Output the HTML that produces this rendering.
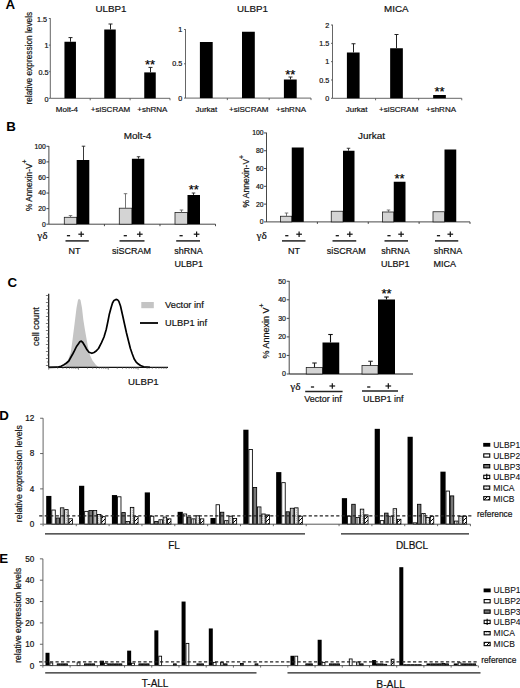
<!DOCTYPE html>
<html><head><meta charset="utf-8"><style>
html,body{margin:0;padding:0;background:#fff;width:520px;height:688px;overflow:hidden;}
svg{display:block;}

</style></head><body>
<svg width="520" height="688" viewBox="0 0 520 688">
<rect width="520" height="688" fill="#fff"/>
<text transform="translate(5.60 9.00)" font-size="13.3" text-anchor="start" font-weight="bold" font-family="Liberation Sans" fill="#000">A</text>
<line x1="50.30" y1="18.20" x2="50.30" y2="98.30" stroke="#555" stroke-width="0.9"/>
<line x1="48.80" y1="98.30" x2="50.30" y2="98.30" stroke="#555" stroke-width="0.9"/>
<text transform="translate(48.40 101.50)" font-size="7.2" text-anchor="end" font-weight="normal" font-family="Liberation Sans" fill="#111" stroke="#111" stroke-width="0.2">0</text>
<line x1="48.80" y1="71.70" x2="50.30" y2="71.70" stroke="#555" stroke-width="0.9"/>
<text transform="translate(48.40 74.90)" font-size="7.2" text-anchor="end" font-weight="normal" font-family="Liberation Sans" fill="#111" stroke="#111" stroke-width="0.2">0.5</text>
<line x1="48.80" y1="45.10" x2="50.30" y2="45.10" stroke="#555" stroke-width="0.9"/>
<text transform="translate(48.40 48.30)" font-size="7.2" text-anchor="end" font-weight="normal" font-family="Liberation Sans" fill="#111" stroke="#111" stroke-width="0.2">1</text>
<line x1="48.80" y1="18.50" x2="50.30" y2="18.50" stroke="#555" stroke-width="0.9"/>
<text transform="translate(47.10 21.70)" font-size="7.2" text-anchor="end" font-weight="normal" font-family="Liberation Sans" fill="#111" stroke="#111" stroke-width="0.2">1.5</text>
<line x1="50.30" y1="98.30" x2="170.00" y2="98.30" stroke="#555" stroke-width="0.9"/>
<line x1="90.20" y1="98.30" x2="90.20" y2="100.30" stroke="#555" stroke-width="0.9"/>
<line x1="130.10" y1="98.30" x2="130.10" y2="100.30" stroke="#555" stroke-width="0.9"/>
<line x1="170.00" y1="98.30" x2="170.00" y2="100.30" stroke="#555" stroke-width="0.9"/>
<rect x="64.45" y="41.75" width="11.50" height="56.55" fill="#000" stroke="none" stroke-width="0.8"/>
<line x1="70.50" y1="37.60" x2="70.50" y2="41.75" stroke="#222" stroke-width="1.0"/>
<line x1="68.50" y1="37.60" x2="72.50" y2="37.60" stroke="#222" stroke-width="1.0"/>
<rect x="104.25" y="29.50" width="11.50" height="68.80" fill="#000" stroke="none" stroke-width="0.8"/>
<line x1="110.50" y1="24.00" x2="110.50" y2="29.50" stroke="#222" stroke-width="1.0"/>
<line x1="108.50" y1="24.00" x2="112.50" y2="24.00" stroke="#222" stroke-width="1.0"/>
<rect x="144.25" y="72.40" width="11.50" height="25.90" fill="#000" stroke="none" stroke-width="0.8"/>
<line x1="150.50" y1="67.40" x2="150.50" y2="72.40" stroke="#222" stroke-width="1.0"/>
<line x1="148.50" y1="67.40" x2="152.50" y2="67.40" stroke="#222" stroke-width="1.0"/>
<text transform="translate(150.00 69.40)" font-size="13" text-anchor="middle" font-weight="normal" font-family="Liberation Sans" fill="#000" stroke="#000" stroke-width="0.2">**</text>
<text transform="translate(66.90 112.20)" font-size="8" text-anchor="middle" font-weight="normal" font-family="Liberation Sans" fill="#111" stroke="#111" stroke-width="0.2">Molt-4</text>
<text transform="translate(110.50 112.20)" font-size="8" text-anchor="middle" font-weight="normal" font-family="Liberation Sans" fill="#111" stroke="#111" stroke-width="0.2">+siSCRAM</text>
<text transform="translate(152.30 112.20)" font-size="8" text-anchor="middle" font-weight="normal" font-family="Liberation Sans" fill="#111" stroke="#111" stroke-width="0.2">+shRNA</text>
<text transform="translate(111.00 12.00)" font-size="9.8" text-anchor="middle" font-weight="normal" font-family="Liberation Sans" fill="#111" stroke="#111" stroke-width="0.2">ULBP1</text>
<line x1="185.50" y1="29.20" x2="185.50" y2="98.10" stroke="#555" stroke-width="0.9"/>
<line x1="184.00" y1="98.10" x2="185.50" y2="98.10" stroke="#555" stroke-width="0.9"/>
<text transform="translate(182.30 100.70)" font-size="7.2" text-anchor="end" font-weight="normal" font-family="Liberation Sans" fill="#111" stroke="#111" stroke-width="0.2">0</text>
<line x1="184.00" y1="63.80" x2="185.50" y2="63.80" stroke="#555" stroke-width="0.9"/>
<text transform="translate(182.30 66.40)" font-size="7.2" text-anchor="end" font-weight="normal" font-family="Liberation Sans" fill="#111" stroke="#111" stroke-width="0.2">0.5</text>
<line x1="184.00" y1="29.50" x2="185.50" y2="29.50" stroke="#555" stroke-width="0.9"/>
<text transform="translate(182.30 32.10)" font-size="7.2" text-anchor="end" font-weight="normal" font-family="Liberation Sans" fill="#111" stroke="#111" stroke-width="0.2">1</text>
<line x1="185.50" y1="98.10" x2="311.00" y2="98.10" stroke="#555" stroke-width="0.9"/>
<line x1="227.33" y1="98.10" x2="227.33" y2="100.10" stroke="#555" stroke-width="0.9"/>
<line x1="269.17" y1="98.10" x2="269.17" y2="100.10" stroke="#555" stroke-width="0.9"/>
<line x1="311.00" y1="98.10" x2="311.00" y2="100.10" stroke="#555" stroke-width="0.9"/>
<rect x="199.90" y="42.00" width="12.80" height="56.10" fill="#000" stroke="none" stroke-width="0.8"/>
<rect x="242.00" y="31.75" width="12.80" height="66.35" fill="#000" stroke="none" stroke-width="0.8"/>
<rect x="283.90" y="79.50" width="12.80" height="18.60" fill="#000" stroke="none" stroke-width="0.8"/>
<line x1="290.50" y1="77.00" x2="290.50" y2="79.50" stroke="#222" stroke-width="1.0"/>
<line x1="288.50" y1="77.00" x2="292.50" y2="77.00" stroke="#222" stroke-width="1.0"/>
<text transform="translate(290.30 78.80)" font-size="13" text-anchor="middle" font-weight="normal" font-family="Liberation Sans" fill="#000" stroke="#000" stroke-width="0.2">**</text>
<text transform="translate(206.40 112.20)" font-size="8" text-anchor="middle" font-weight="normal" font-family="Liberation Sans" fill="#111" stroke="#111" stroke-width="0.2">Jurkat</text>
<text transform="translate(248.75 112.20)" font-size="8" text-anchor="middle" font-weight="normal" font-family="Liberation Sans" fill="#111" stroke="#111" stroke-width="0.2">+siSCRAM</text>
<text transform="translate(291.00 112.20)" font-size="8" text-anchor="middle" font-weight="normal" font-family="Liberation Sans" fill="#111" stroke="#111" stroke-width="0.2">+shRNA</text>
<text transform="translate(252.50 12.00)" font-size="9.8" text-anchor="middle" font-weight="normal" font-family="Liberation Sans" fill="#111" stroke="#111" stroke-width="0.2">ULBP1</text>
<line x1="332.50" y1="24.70" x2="332.50" y2="98.30" stroke="#555" stroke-width="0.9"/>
<line x1="331.00" y1="98.30" x2="332.50" y2="98.30" stroke="#555" stroke-width="0.9"/>
<text transform="translate(329.30 100.90)" font-size="7.2" text-anchor="end" font-weight="normal" font-family="Liberation Sans" fill="#111" stroke="#111" stroke-width="0.2">0</text>
<line x1="331.00" y1="79.97" x2="332.50" y2="79.97" stroke="#555" stroke-width="0.9"/>
<text transform="translate(329.30 82.57)" font-size="7.2" text-anchor="end" font-weight="normal" font-family="Liberation Sans" fill="#111" stroke="#111" stroke-width="0.2">0.5</text>
<line x1="331.00" y1="61.65" x2="332.50" y2="61.65" stroke="#555" stroke-width="0.9"/>
<text transform="translate(329.30 64.25)" font-size="7.2" text-anchor="end" font-weight="normal" font-family="Liberation Sans" fill="#111" stroke="#111" stroke-width="0.2">1</text>
<line x1="331.00" y1="43.33" x2="332.50" y2="43.33" stroke="#555" stroke-width="0.9"/>
<text transform="translate(329.30 45.93)" font-size="7.2" text-anchor="end" font-weight="normal" font-family="Liberation Sans" fill="#111" stroke="#111" stroke-width="0.2">1.5</text>
<line x1="331.00" y1="25.00" x2="332.50" y2="25.00" stroke="#555" stroke-width="0.9"/>
<text transform="translate(329.30 27.60)" font-size="7.2" text-anchor="end" font-weight="normal" font-family="Liberation Sans" fill="#111" stroke="#111" stroke-width="0.2">2</text>
<line x1="332.50" y1="98.30" x2="461.75" y2="98.30" stroke="#555" stroke-width="0.9"/>
<line x1="375.58" y1="98.30" x2="375.58" y2="100.30" stroke="#555" stroke-width="0.9"/>
<line x1="418.67" y1="98.30" x2="418.67" y2="100.30" stroke="#555" stroke-width="0.9"/>
<line x1="461.75" y1="98.30" x2="461.75" y2="100.30" stroke="#555" stroke-width="0.9"/>
<rect x="346.90" y="52.50" width="12.70" height="45.80" fill="#000" stroke="none" stroke-width="0.8"/>
<line x1="353.50" y1="43.75" x2="353.50" y2="52.50" stroke="#222" stroke-width="1.0"/>
<line x1="351.50" y1="43.75" x2="355.50" y2="43.75" stroke="#222" stroke-width="1.0"/>
<rect x="390.15" y="48.25" width="12.70" height="50.05" fill="#000" stroke="none" stroke-width="0.8"/>
<line x1="396.50" y1="34.50" x2="396.50" y2="48.25" stroke="#222" stroke-width="1.0"/>
<line x1="394.50" y1="34.50" x2="398.50" y2="34.50" stroke="#222" stroke-width="1.0"/>
<rect x="433.15" y="95.00" width="12.70" height="3.30" fill="#000" stroke="none" stroke-width="0.8"/>
<text transform="translate(439.50 95.55)" font-size="13" text-anchor="middle" font-weight="normal" font-family="Liberation Sans" fill="#000" stroke="#000" stroke-width="0.2">**</text>
<text transform="translate(356.60 112.20)" font-size="8" text-anchor="middle" font-weight="normal" font-family="Liberation Sans" fill="#111" stroke="#111" stroke-width="0.2">Jurkat</text>
<text transform="translate(398.70 112.20)" font-size="8" text-anchor="middle" font-weight="normal" font-family="Liberation Sans" fill="#111" stroke="#111" stroke-width="0.2">+siSCRAM</text>
<text transform="translate(441.00 112.20)" font-size="8" text-anchor="middle" font-weight="normal" font-family="Liberation Sans" fill="#111" stroke="#111" stroke-width="0.2">+shRNA</text>
<text transform="translate(396.25 12.00)" font-size="9.8" text-anchor="middle" font-weight="normal" font-family="Liberation Sans" fill="#111" stroke="#111" stroke-width="0.2">MICA</text>
<text transform="translate(32.40 58.20) rotate(-90)" font-size="8.3" text-anchor="middle" font-weight="normal" font-family="Liberation Sans" fill="#111" stroke="#111" stroke-width="0.2">relative expression levels</text>
<text transform="translate(6.20 131.15)" font-size="13.3" text-anchor="start" font-weight="bold" font-family="Liberation Sans" fill="#000">B</text>
<line x1="48.90" y1="146.00" x2="48.90" y2="224.20" stroke="#333" stroke-width="0.9"/>
<line x1="46.40" y1="224.20" x2="48.90" y2="224.20" stroke="#333" stroke-width="0.9"/>
<text transform="translate(45.90 226.60)" font-size="6.8" text-anchor="end" font-weight="normal" font-family="Liberation Sans" fill="#111" stroke="#111" stroke-width="0.2">0</text>
<line x1="46.40" y1="208.62" x2="48.90" y2="208.62" stroke="#333" stroke-width="0.9"/>
<text transform="translate(45.90 211.02)" font-size="6.8" text-anchor="end" font-weight="normal" font-family="Liberation Sans" fill="#111" stroke="#111" stroke-width="0.2">20</text>
<line x1="46.40" y1="193.04" x2="48.90" y2="193.04" stroke="#333" stroke-width="0.9"/>
<text transform="translate(45.90 195.44)" font-size="6.8" text-anchor="end" font-weight="normal" font-family="Liberation Sans" fill="#111" stroke="#111" stroke-width="0.2">40</text>
<line x1="46.40" y1="177.46" x2="48.90" y2="177.46" stroke="#333" stroke-width="0.9"/>
<text transform="translate(45.90 179.86)" font-size="6.8" text-anchor="end" font-weight="normal" font-family="Liberation Sans" fill="#111" stroke="#111" stroke-width="0.2">60</text>
<line x1="46.40" y1="161.88" x2="48.90" y2="161.88" stroke="#333" stroke-width="0.9"/>
<text transform="translate(45.90 164.28)" font-size="6.8" text-anchor="end" font-weight="normal" font-family="Liberation Sans" fill="#111" stroke="#111" stroke-width="0.2">80</text>
<line x1="46.40" y1="146.30" x2="48.90" y2="146.30" stroke="#333" stroke-width="0.9"/>
<text transform="translate(45.90 148.70)" font-size="6.8" text-anchor="end" font-weight="normal" font-family="Liberation Sans" fill="#111" stroke="#111" stroke-width="0.2">100</text>
<line x1="48.90" y1="224.20" x2="215.50" y2="224.20" stroke="#333" stroke-width="0.9"/>
<line x1="104.43" y1="224.20" x2="104.43" y2="226.20" stroke="#333" stroke-width="0.9"/>
<line x1="159.97" y1="224.20" x2="159.97" y2="226.20" stroke="#333" stroke-width="0.9"/>
<line x1="215.50" y1="224.20" x2="215.50" y2="226.20" stroke="#333" stroke-width="0.9"/>
<rect x="64.30" y="217.30" width="12.40" height="6.90" fill="#d4d4d4" stroke="#222" stroke-width="0.8"/>
<rect x="76.70" y="160.00" width="12.60" height="64.20" fill="#000" stroke="none" stroke-width="0.8"/>
<line x1="70.50" y1="215.60" x2="70.50" y2="217.30" stroke="#666" stroke-width="0.9"/>
<line x1="68.75" y1="215.60" x2="72.25" y2="215.60" stroke="#666" stroke-width="0.9"/>
<line x1="83.50" y1="146.20" x2="83.50" y2="160.00" stroke="#222" stroke-width="0.9"/>
<line x1="81.75" y1="146.20" x2="85.25" y2="146.20" stroke="#222" stroke-width="0.9"/>
<rect x="119.30" y="208.20" width="12.60" height="16.00" fill="#d4d4d4" stroke="#222" stroke-width="0.8"/>
<rect x="131.90" y="158.75" width="12.40" height="65.45" fill="#000" stroke="none" stroke-width="0.8"/>
<line x1="125.50" y1="193.70" x2="125.50" y2="208.20" stroke="#666" stroke-width="0.9"/>
<line x1="123.75" y1="193.70" x2="127.25" y2="193.70" stroke="#666" stroke-width="0.9"/>
<line x1="138.50" y1="156.75" x2="138.50" y2="158.75" stroke="#222" stroke-width="0.9"/>
<line x1="136.75" y1="156.75" x2="140.25" y2="156.75" stroke="#222" stroke-width="0.9"/>
<rect x="175.00" y="212.50" width="12.50" height="11.70" fill="#d4d4d4" stroke="#222" stroke-width="0.8"/>
<rect x="187.50" y="195.00" width="12.50" height="29.20" fill="#000" stroke="none" stroke-width="0.8"/>
<line x1="181.50" y1="210.00" x2="181.50" y2="212.50" stroke="#666" stroke-width="0.9"/>
<line x1="179.75" y1="210.00" x2="183.25" y2="210.00" stroke="#666" stroke-width="0.9"/>
<line x1="193.50" y1="193.00" x2="193.50" y2="195.00" stroke="#222" stroke-width="0.9"/>
<line x1="191.75" y1="193.00" x2="195.25" y2="193.00" stroke="#222" stroke-width="0.9"/>
<text transform="translate(193.75 193.80)" font-size="13" text-anchor="middle" font-weight="normal" font-family="Liberation Sans" fill="#000" stroke="#000" stroke-width="0.2">**</text>
<text transform="translate(137.50 139.30) scale(1 0.88)" font-size="10" text-anchor="middle" font-weight="normal" font-family="Liberation Sans" fill="#111" stroke="#111" stroke-width="0.2">Molt-4</text>
<text transform="translate(37.20 238.70)" font-size="11.3" text-anchor="start" font-weight="normal" font-family="Liberation Serif" fill="#111" stroke="#111" stroke-width="0.2">γδ</text>
<line x1="66.90" y1="235.70" x2="70.10" y2="235.70" stroke="#111" stroke-width="1.3"/>
<line x1="78.35" y1="234.20" x2="84.05" y2="234.20" stroke="#111" stroke-width="1.2"/>
<line x1="81.20" y1="231.45" x2="81.20" y2="236.95" stroke="#111" stroke-width="1.2"/>
<line x1="123.70" y1="235.70" x2="126.90" y2="235.70" stroke="#111" stroke-width="1.3"/>
<line x1="136.95" y1="234.20" x2="142.65" y2="234.20" stroke="#111" stroke-width="1.2"/>
<line x1="139.80" y1="231.45" x2="139.80" y2="236.95" stroke="#111" stroke-width="1.2"/>
<line x1="179.50" y1="235.70" x2="182.70" y2="235.70" stroke="#111" stroke-width="1.3"/>
<line x1="193.75" y1="234.20" x2="199.45" y2="234.20" stroke="#111" stroke-width="1.2"/>
<line x1="196.60" y1="231.45" x2="196.60" y2="236.95" stroke="#111" stroke-width="1.2"/>
<line x1="65.50" y1="240.90" x2="88.80" y2="240.90" stroke="#222" stroke-width="1.5"/>
<line x1="119.50" y1="240.90" x2="144.50" y2="240.90" stroke="#222" stroke-width="1.5"/>
<line x1="176.20" y1="240.90" x2="200.00" y2="240.90" stroke="#222" stroke-width="1.5"/>
<text transform="translate(74.60 253.80)" font-size="9" text-anchor="middle" font-weight="normal" font-family="Liberation Sans" fill="#111" stroke="#111" stroke-width="0.2">NT</text>
<text transform="translate(131.60 253.80)" font-size="9" text-anchor="middle" font-weight="normal" font-family="Liberation Sans" fill="#111" stroke="#111" stroke-width="0.2">siSCRAM</text>
<text transform="translate(188.60 253.80)" font-size="9" text-anchor="middle" font-weight="normal" font-family="Liberation Sans" fill="#111" stroke="#111" stroke-width="0.2">shRNA</text>
<text transform="translate(188.75 267.30)" font-size="9" text-anchor="middle" font-weight="normal" font-family="Liberation Sans" fill="#111" stroke="#111" stroke-width="0.2">ULBP1</text>
<line x1="266.50" y1="132.65" x2="266.50" y2="221.90" stroke="#333" stroke-width="0.9"/>
<line x1="264.00" y1="221.90" x2="266.50" y2="221.90" stroke="#333" stroke-width="0.9"/>
<text transform="translate(263.50 224.30)" font-size="6.8" text-anchor="end" font-weight="normal" font-family="Liberation Sans" fill="#111" stroke="#111" stroke-width="0.2">0</text>
<line x1="264.00" y1="204.11" x2="266.50" y2="204.11" stroke="#333" stroke-width="0.9"/>
<text transform="translate(263.50 206.51)" font-size="6.8" text-anchor="end" font-weight="normal" font-family="Liberation Sans" fill="#111" stroke="#111" stroke-width="0.2">20</text>
<line x1="264.00" y1="186.32" x2="266.50" y2="186.32" stroke="#333" stroke-width="0.9"/>
<text transform="translate(263.50 188.72)" font-size="6.8" text-anchor="end" font-weight="normal" font-family="Liberation Sans" fill="#111" stroke="#111" stroke-width="0.2">40</text>
<line x1="264.00" y1="168.53" x2="266.50" y2="168.53" stroke="#333" stroke-width="0.9"/>
<text transform="translate(263.50 170.93)" font-size="6.8" text-anchor="end" font-weight="normal" font-family="Liberation Sans" fill="#111" stroke="#111" stroke-width="0.2">60</text>
<line x1="264.00" y1="150.74" x2="266.50" y2="150.74" stroke="#333" stroke-width="0.9"/>
<text transform="translate(263.50 153.14)" font-size="6.8" text-anchor="end" font-weight="normal" font-family="Liberation Sans" fill="#111" stroke="#111" stroke-width="0.2">80</text>
<line x1="264.00" y1="132.95" x2="266.50" y2="132.95" stroke="#333" stroke-width="0.9"/>
<text transform="translate(263.50 135.35)" font-size="6.8" text-anchor="end" font-weight="normal" font-family="Liberation Sans" fill="#111" stroke="#111" stroke-width="0.2">100</text>
<line x1="266.50" y1="221.90" x2="470.00" y2="221.90" stroke="#333" stroke-width="0.9"/>
<line x1="317.38" y1="221.90" x2="317.38" y2="223.90" stroke="#333" stroke-width="0.9"/>
<line x1="368.25" y1="221.90" x2="368.25" y2="223.90" stroke="#333" stroke-width="0.9"/>
<line x1="419.12" y1="221.90" x2="419.12" y2="223.90" stroke="#333" stroke-width="0.9"/>
<line x1="470.00" y1="221.90" x2="470.00" y2="223.90" stroke="#333" stroke-width="0.9"/>
<rect x="280.50" y="216.25" width="11.25" height="5.65" fill="#d4d4d4" stroke="#222" stroke-width="0.8"/>
<rect x="291.75" y="147.50" width="12.00" height="74.40" fill="#000" stroke="none" stroke-width="0.8"/>
<line x1="286.50" y1="213.00" x2="286.50" y2="216.25" stroke="#666" stroke-width="0.9"/>
<line x1="284.75" y1="213.00" x2="288.25" y2="213.00" stroke="#666" stroke-width="0.9"/>
<rect x="331.25" y="211.25" width="11.75" height="10.65" fill="#d4d4d4" stroke="#222" stroke-width="0.8"/>
<rect x="343.00" y="150.75" width="11.50" height="71.15" fill="#000" stroke="none" stroke-width="0.8"/>
<line x1="348.50" y1="148.25" x2="348.50" y2="150.75" stroke="#222" stroke-width="0.9"/>
<line x1="346.75" y1="148.25" x2="350.25" y2="148.25" stroke="#222" stroke-width="0.9"/>
<rect x="382.50" y="212.00" width="11.25" height="9.90" fill="#d4d4d4" stroke="#222" stroke-width="0.8"/>
<rect x="393.75" y="181.75" width="11.75" height="40.15" fill="#000" stroke="none" stroke-width="0.8"/>
<line x1="388.50" y1="210.00" x2="388.50" y2="212.00" stroke="#666" stroke-width="0.9"/>
<line x1="386.75" y1="210.00" x2="390.25" y2="210.00" stroke="#666" stroke-width="0.9"/>
<text transform="translate(399.62 183.30)" font-size="13" text-anchor="middle" font-weight="normal" font-family="Liberation Sans" fill="#000" stroke="#000" stroke-width="0.2">**</text>
<rect x="433.00" y="211.75" width="11.50" height="10.15" fill="#d4d4d4" stroke="#222" stroke-width="0.8"/>
<rect x="444.50" y="149.50" width="11.75" height="72.40" fill="#000" stroke="none" stroke-width="0.8"/>
<text transform="translate(371.50 139.30) scale(1 0.88)" font-size="10" text-anchor="middle" font-weight="normal" font-family="Liberation Sans" fill="#111" stroke="#111" stroke-width="0.2">Jurkat</text>
<text transform="translate(256.50 238.70)" font-size="11.3" text-anchor="start" font-weight="normal" font-family="Liberation Serif" fill="#111" stroke="#111" stroke-width="0.2">γδ</text>
<line x1="285.20" y1="235.70" x2="288.40" y2="235.70" stroke="#111" stroke-width="1.3"/>
<line x1="296.25" y1="234.20" x2="301.95" y2="234.20" stroke="#111" stroke-width="1.2"/>
<line x1="299.10" y1="231.45" x2="299.10" y2="236.95" stroke="#111" stroke-width="1.2"/>
<line x1="335.70" y1="235.70" x2="338.90" y2="235.70" stroke="#111" stroke-width="1.3"/>
<line x1="346.95" y1="234.20" x2="352.65" y2="234.20" stroke="#111" stroke-width="1.2"/>
<line x1="349.80" y1="231.45" x2="349.80" y2="236.95" stroke="#111" stroke-width="1.2"/>
<line x1="387.40" y1="235.70" x2="390.60" y2="235.70" stroke="#111" stroke-width="1.3"/>
<line x1="398.25" y1="234.20" x2="403.95" y2="234.20" stroke="#111" stroke-width="1.2"/>
<line x1="401.10" y1="231.45" x2="401.10" y2="236.95" stroke="#111" stroke-width="1.2"/>
<line x1="436.90" y1="235.70" x2="440.10" y2="235.70" stroke="#111" stroke-width="1.3"/>
<line x1="447.45" y1="234.20" x2="453.15" y2="234.20" stroke="#111" stroke-width="1.2"/>
<line x1="450.30" y1="231.45" x2="450.30" y2="236.95" stroke="#111" stroke-width="1.2"/>
<line x1="282.00" y1="240.90" x2="305.50" y2="240.90" stroke="#222" stroke-width="1.5"/>
<line x1="332.50" y1="240.90" x2="356.25" y2="240.90" stroke="#222" stroke-width="1.5"/>
<line x1="384.50" y1="240.90" x2="408.00" y2="240.90" stroke="#222" stroke-width="1.5"/>
<line x1="435.00" y1="240.90" x2="458.25" y2="240.90" stroke="#222" stroke-width="1.5"/>
<text transform="translate(294.00 253.80)" font-size="9" text-anchor="middle" font-weight="normal" font-family="Liberation Sans" fill="#111" stroke="#111" stroke-width="0.2">NT</text>
<text transform="translate(346.25 253.80)" font-size="9" text-anchor="middle" font-weight="normal" font-family="Liberation Sans" fill="#111" stroke="#111" stroke-width="0.2">siSCRAM</text>
<text transform="translate(395.60 253.80)" font-size="9" text-anchor="middle" font-weight="normal" font-family="Liberation Sans" fill="#111" stroke="#111" stroke-width="0.2">shRNA</text>
<text transform="translate(395.25 267.30)" font-size="9" text-anchor="middle" font-weight="normal" font-family="Liberation Sans" fill="#111" stroke="#111" stroke-width="0.2">ULBP1</text>
<text transform="translate(447.90 253.80)" font-size="9" text-anchor="middle" font-weight="normal" font-family="Liberation Sans" fill="#111" stroke="#111" stroke-width="0.2">shRNA</text>
<text transform="translate(444.75 267.30)" font-size="9" text-anchor="middle" font-weight="normal" font-family="Liberation Sans" fill="#111" stroke="#111" stroke-width="0.2">MICA</text>
<text transform="translate(31.80 211.00) rotate(-90)" font-size="8.3" text-anchor="start" font-weight="normal" font-family="Liberation Sans" fill="#111" stroke="#111" stroke-width="0.2">% Annexin-V<tspan font-size="7" dy="-4.8">+</tspan></text>
<text transform="translate(249.00 207.60) rotate(-90)" font-size="8.5" text-anchor="start" font-weight="normal" font-family="Liberation Sans" fill="#111" stroke="#111" stroke-width="0.2">% Annexin-V<tspan font-size="7" dy="-4.8">+</tspan></text>
<text transform="translate(7.55 287.00)" font-size="13.3" text-anchor="start" font-weight="bold" font-family="Liberation Sans" fill="#000">C</text>
<polygon points="62.0,367.3 65.0,366.5 68.0,360.0 70.8,352.3 72.5,340.0 74.6,323.5 76.5,308.0 78.0,300.0 79.0,298.8 80.5,300.0 82.0,308.0 83.3,319.6 84.8,329.0 86.2,337.0 88.0,347.0 90.0,355.2 92.5,360.5 95.8,364.8 98.5,367.3" fill="#c4c4c4" stroke="none"/>
<polyline points="48.7,367.3 57.3,367.2 61.0,366.2 64.0,364.8 66.5,363.0 68.8,361.0 71.0,357.0 73.0,353.5 74.6,350.4 76.5,346.5 78.5,343.7 80.0,341.5 81.3,341.2 82.8,342.5 85.2,346.5 87.0,349.8 89.0,352.3 91.9,353.3 94.0,352.5 95.8,351.3 98.5,348.5 101.5,342.7 104.0,337.0 106.3,329.2 108.0,321.0 109.2,314.8 111.0,308.0 112.5,303.0 114.0,300.4 116.0,299.4 117.5,299.8 118.8,301.3 120.5,306.0 122.7,315.8 124.5,324.0 126.5,333.0 128.5,341.0 130.4,348.5 132.3,354.0 134.2,359.0 136.0,361.8 138.0,363.8 140.5,365.5 143.7,366.8 150.0,367.3" fill="none" stroke="#000" stroke-width="1.7" stroke-linejoin="round"/>
<line x1="48.70" y1="293.70" x2="48.70" y2="367.30" stroke="#111" stroke-width="1.2"/>
<line x1="48.70" y1="367.30" x2="168.00" y2="367.30" stroke="#111" stroke-width="1.2"/>
<line x1="45.90" y1="295.50" x2="48.70" y2="295.50" stroke="#444" stroke-width="0.7"/>
<line x1="46.90" y1="299.00" x2="48.70" y2="299.00" stroke="#444" stroke-width="0.7"/>
<line x1="45.90" y1="302.50" x2="48.70" y2="302.50" stroke="#444" stroke-width="0.7"/>
<line x1="46.90" y1="306.00" x2="48.70" y2="306.00" stroke="#444" stroke-width="0.7"/>
<line x1="45.90" y1="309.50" x2="48.70" y2="309.50" stroke="#444" stroke-width="0.7"/>
<line x1="46.90" y1="313.00" x2="48.70" y2="313.00" stroke="#444" stroke-width="0.7"/>
<line x1="45.90" y1="316.50" x2="48.70" y2="316.50" stroke="#444" stroke-width="0.7"/>
<line x1="46.90" y1="320.00" x2="48.70" y2="320.00" stroke="#444" stroke-width="0.7"/>
<line x1="45.90" y1="323.50" x2="48.70" y2="323.50" stroke="#444" stroke-width="0.7"/>
<line x1="46.90" y1="327.00" x2="48.70" y2="327.00" stroke="#444" stroke-width="0.7"/>
<line x1="45.90" y1="330.50" x2="48.70" y2="330.50" stroke="#444" stroke-width="0.7"/>
<line x1="46.90" y1="334.00" x2="48.70" y2="334.00" stroke="#444" stroke-width="0.7"/>
<line x1="45.90" y1="337.50" x2="48.70" y2="337.50" stroke="#444" stroke-width="0.7"/>
<line x1="46.90" y1="341.00" x2="48.70" y2="341.00" stroke="#444" stroke-width="0.7"/>
<line x1="45.90" y1="344.50" x2="48.70" y2="344.50" stroke="#444" stroke-width="0.7"/>
<line x1="46.90" y1="348.00" x2="48.70" y2="348.00" stroke="#444" stroke-width="0.7"/>
<line x1="45.90" y1="351.50" x2="48.70" y2="351.50" stroke="#444" stroke-width="0.7"/>
<line x1="46.90" y1="355.00" x2="48.70" y2="355.00" stroke="#444" stroke-width="0.7"/>
<line x1="45.90" y1="358.50" x2="48.70" y2="358.50" stroke="#444" stroke-width="0.7"/>
<line x1="46.90" y1="362.00" x2="48.70" y2="362.00" stroke="#444" stroke-width="0.7"/>
<line x1="45.90" y1="365.50" x2="48.70" y2="365.50" stroke="#444" stroke-width="0.7"/>
<line x1="48.70" y1="367.30" x2="48.70" y2="369.70" stroke="#555" stroke-width="0.7"/>
<line x1="57.67" y1="367.30" x2="57.67" y2="368.80" stroke="#555" stroke-width="0.7"/>
<line x1="62.92" y1="367.30" x2="62.92" y2="368.80" stroke="#555" stroke-width="0.7"/>
<line x1="66.64" y1="367.30" x2="66.64" y2="368.80" stroke="#555" stroke-width="0.7"/>
<line x1="69.53" y1="367.30" x2="69.53" y2="368.80" stroke="#555" stroke-width="0.7"/>
<line x1="71.89" y1="367.30" x2="71.89" y2="368.80" stroke="#555" stroke-width="0.7"/>
<line x1="73.88" y1="367.30" x2="73.88" y2="368.80" stroke="#555" stroke-width="0.7"/>
<line x1="75.61" y1="367.30" x2="75.61" y2="368.80" stroke="#555" stroke-width="0.7"/>
<line x1="77.14" y1="367.30" x2="77.14" y2="368.80" stroke="#555" stroke-width="0.7"/>
<line x1="78.50" y1="367.30" x2="78.50" y2="369.70" stroke="#555" stroke-width="0.7"/>
<line x1="87.47" y1="367.30" x2="87.47" y2="368.80" stroke="#555" stroke-width="0.7"/>
<line x1="92.72" y1="367.30" x2="92.72" y2="368.80" stroke="#555" stroke-width="0.7"/>
<line x1="96.44" y1="367.30" x2="96.44" y2="368.80" stroke="#555" stroke-width="0.7"/>
<line x1="99.33" y1="367.30" x2="99.33" y2="368.80" stroke="#555" stroke-width="0.7"/>
<line x1="101.69" y1="367.30" x2="101.69" y2="368.80" stroke="#555" stroke-width="0.7"/>
<line x1="103.68" y1="367.30" x2="103.68" y2="368.80" stroke="#555" stroke-width="0.7"/>
<line x1="105.41" y1="367.30" x2="105.41" y2="368.80" stroke="#555" stroke-width="0.7"/>
<line x1="106.94" y1="367.30" x2="106.94" y2="368.80" stroke="#555" stroke-width="0.7"/>
<line x1="108.30" y1="367.30" x2="108.30" y2="369.70" stroke="#555" stroke-width="0.7"/>
<line x1="117.27" y1="367.30" x2="117.27" y2="368.80" stroke="#555" stroke-width="0.7"/>
<line x1="122.52" y1="367.30" x2="122.52" y2="368.80" stroke="#555" stroke-width="0.7"/>
<line x1="126.24" y1="367.30" x2="126.24" y2="368.80" stroke="#555" stroke-width="0.7"/>
<line x1="129.13" y1="367.30" x2="129.13" y2="368.80" stroke="#555" stroke-width="0.7"/>
<line x1="131.49" y1="367.30" x2="131.49" y2="368.80" stroke="#555" stroke-width="0.7"/>
<line x1="133.48" y1="367.30" x2="133.48" y2="368.80" stroke="#555" stroke-width="0.7"/>
<line x1="135.21" y1="367.30" x2="135.21" y2="368.80" stroke="#555" stroke-width="0.7"/>
<line x1="136.74" y1="367.30" x2="136.74" y2="368.80" stroke="#555" stroke-width="0.7"/>
<line x1="138.10" y1="367.30" x2="138.10" y2="369.70" stroke="#555" stroke-width="0.7"/>
<line x1="147.07" y1="367.30" x2="147.07" y2="368.80" stroke="#555" stroke-width="0.7"/>
<line x1="152.32" y1="367.30" x2="152.32" y2="368.80" stroke="#555" stroke-width="0.7"/>
<line x1="156.04" y1="367.30" x2="156.04" y2="368.80" stroke="#555" stroke-width="0.7"/>
<line x1="158.93" y1="367.30" x2="158.93" y2="368.80" stroke="#555" stroke-width="0.7"/>
<line x1="161.29" y1="367.30" x2="161.29" y2="368.80" stroke="#555" stroke-width="0.7"/>
<line x1="163.28" y1="367.30" x2="163.28" y2="368.80" stroke="#555" stroke-width="0.7"/>
<line x1="165.01" y1="367.30" x2="165.01" y2="368.80" stroke="#555" stroke-width="0.7"/>
<line x1="166.54" y1="367.30" x2="166.54" y2="368.80" stroke="#555" stroke-width="0.7"/>
<rect x="141.30" y="302.00" width="12.50" height="6.20" fill="#c4c4c4" stroke="none" stroke-width="0.8"/>
<text transform="translate(165.10 308.40)" font-size="9.3" text-anchor="start" font-weight="normal" font-family="Liberation Sans" fill="#111" stroke="#111" stroke-width="0.2">Vector inf</text>
<line x1="140.00" y1="323.00" x2="158.00" y2="323.00" stroke="#000" stroke-width="1.8"/>
<text transform="translate(165.10 326.40)" font-size="9.3" text-anchor="start" font-weight="normal" font-family="Liberation Sans" fill="#111" stroke="#111" stroke-width="0.2">ULBP1 inf</text>
<text transform="translate(143.40 385.20)" font-size="9.7" text-anchor="middle" font-weight="normal" font-family="Liberation Sans" fill="#111" stroke="#111" stroke-width="0.2">ULBP1</text>
<text transform="translate(38.90 326.60) rotate(-90)" font-size="9.2" text-anchor="middle" font-weight="normal" font-family="Liberation Sans" fill="#111" stroke="#111" stroke-width="0.2">cell count</text>
<line x1="289.20" y1="280.95" x2="289.20" y2="374.00" stroke="#333" stroke-width="0.9"/>
<line x1="286.70" y1="374.00" x2="289.20" y2="374.00" stroke="#333" stroke-width="0.9"/>
<text transform="translate(286.00 376.40)" font-size="7" text-anchor="end" font-weight="normal" font-family="Liberation Sans" fill="#111" stroke="#111" stroke-width="0.2">0</text>
<line x1="286.70" y1="355.45" x2="289.20" y2="355.45" stroke="#333" stroke-width="0.9"/>
<text transform="translate(286.00 357.85)" font-size="7" text-anchor="end" font-weight="normal" font-family="Liberation Sans" fill="#111" stroke="#111" stroke-width="0.2">10</text>
<line x1="286.70" y1="336.90" x2="289.20" y2="336.90" stroke="#333" stroke-width="0.9"/>
<text transform="translate(286.00 339.30)" font-size="7" text-anchor="end" font-weight="normal" font-family="Liberation Sans" fill="#111" stroke="#111" stroke-width="0.2">20</text>
<line x1="286.70" y1="318.35" x2="289.20" y2="318.35" stroke="#333" stroke-width="0.9"/>
<text transform="translate(286.00 320.75)" font-size="7" text-anchor="end" font-weight="normal" font-family="Liberation Sans" fill="#111" stroke="#111" stroke-width="0.2">30</text>
<line x1="286.70" y1="299.80" x2="289.20" y2="299.80" stroke="#333" stroke-width="0.9"/>
<text transform="translate(286.00 302.20)" font-size="7" text-anchor="end" font-weight="normal" font-family="Liberation Sans" fill="#111" stroke="#111" stroke-width="0.2">40</text>
<line x1="286.70" y1="281.25" x2="289.20" y2="281.25" stroke="#333" stroke-width="0.9"/>
<text transform="translate(286.00 283.65)" font-size="7" text-anchor="end" font-weight="normal" font-family="Liberation Sans" fill="#111" stroke="#111" stroke-width="0.2">50</text>
<line x1="289.20" y1="374.00" x2="413.00" y2="374.00" stroke="#111" stroke-width="1.2"/>
<rect x="306.25" y="367.50" width="16.25" height="6.50" fill="#d4d4d4" stroke="#222" stroke-width="0.8"/>
<rect x="322.50" y="342.50" width="16.75" height="31.50" fill="#000" stroke="none" stroke-width="0.8"/>
<line x1="314.50" y1="363.00" x2="314.50" y2="367.50" stroke="#222" stroke-width="1.1"/>
<line x1="312.25" y1="363.00" x2="316.75" y2="363.00" stroke="#222" stroke-width="1.1"/>
<line x1="330.50" y1="334.50" x2="330.50" y2="342.50" stroke="#111" stroke-width="1.1"/>
<line x1="328.25" y1="334.50" x2="332.75" y2="334.50" stroke="#111" stroke-width="1.1"/>
<rect x="362.00" y="365.50" width="16.00" height="8.50" fill="#d4d4d4" stroke="#222" stroke-width="0.8"/>
<rect x="378.00" y="299.50" width="17.00" height="74.50" fill="#000" stroke="none" stroke-width="0.8"/>
<line x1="370.50" y1="361.25" x2="370.50" y2="365.50" stroke="#222" stroke-width="1.1"/>
<line x1="368.25" y1="361.25" x2="372.75" y2="361.25" stroke="#222" stroke-width="1.1"/>
<line x1="386.50" y1="297.00" x2="386.50" y2="299.50" stroke="#111" stroke-width="1.1"/>
<line x1="384.25" y1="297.00" x2="388.75" y2="297.00" stroke="#111" stroke-width="1.1"/>
<text transform="translate(386.60 297.55)" font-size="13" text-anchor="middle" font-weight="normal" font-family="Liberation Sans" fill="#000" stroke="#000" stroke-width="0.2">**</text>
<text transform="translate(290.20 390.40)" font-size="11.3" text-anchor="start" font-weight="normal" font-family="Liberation Serif" fill="#111" stroke="#111" stroke-width="0.2">γδ</text>
<line x1="310.90" y1="387.00" x2="314.10" y2="387.00" stroke="#111" stroke-width="1.3"/>
<line x1="329.45" y1="386.00" x2="335.15" y2="386.00" stroke="#111" stroke-width="1.2"/>
<line x1="332.30" y1="383.25" x2="332.30" y2="388.75" stroke="#111" stroke-width="1.2"/>
<line x1="367.15" y1="387.00" x2="370.35" y2="387.00" stroke="#111" stroke-width="1.3"/>
<line x1="385.45" y1="386.00" x2="391.15" y2="386.00" stroke="#111" stroke-width="1.2"/>
<line x1="388.30" y1="383.25" x2="388.30" y2="388.75" stroke="#111" stroke-width="1.2"/>
<line x1="305.20" y1="391.60" x2="342.60" y2="391.60" stroke="#222" stroke-width="1.5"/>
<line x1="362.00" y1="390.90" x2="398.00" y2="390.90" stroke="#222" stroke-width="1.5"/>
<text transform="translate(323.00 402.10)" font-size="9" text-anchor="middle" font-weight="normal" font-family="Liberation Sans" fill="#111" stroke="#111" stroke-width="0.2">Vector inf</text>
<text transform="translate(383.20 402.10)" font-size="9" text-anchor="middle" font-weight="normal" font-family="Liberation Sans" fill="#111" stroke="#111" stroke-width="0.2">ULBP1 inf</text>
<text transform="translate(269.30 358.60) rotate(-90)" font-size="9" text-anchor="start" font-weight="normal" font-family="Liberation Sans" fill="#111" stroke="#111" stroke-width="0.2">% Annexin V<tspan font-size="7" dy="-5.3">+</tspan></text>
<defs>
<pattern id="pv" patternUnits="userSpaceOnUse" width="4.4" height="4"><rect width="4.4" height="4" fill="#fff"/><line x1="1.5" y1="0" x2="1.5" y2="4" stroke="#555" stroke-width="0.7"/><line x1="3" y1="0" x2="3" y2="4" stroke="#555" stroke-width="0.7"/></pattern>
<pattern id="pd" patternUnits="userSpaceOnUse" width="2" height="2"><rect width="2" height="2" fill="#e6e6e6"/><rect width="1" height="1" fill="#bbb"/></pattern>
<pattern id="ph" patternUnits="userSpaceOnUse" width="4" height="4"><rect width="4" height="4" fill="#fff"/><path d="M0,4 L4,0" stroke="#000" stroke-width="1"/></pattern>
</defs>
<text transform="translate(-0.80 419.80)" font-size="13.3" text-anchor="start" font-weight="bold" font-family="Liberation Sans" fill="#000">D</text>
<line x1="43.10" y1="418.24" x2="43.10" y2="524.20" stroke="#555" stroke-width="0.9"/>
<line x1="40.10" y1="524.20" x2="43.10" y2="524.20" stroke="#555" stroke-width="0.9"/>
<text transform="translate(34.30 527.10)" font-size="8.2" text-anchor="end" font-weight="normal" font-family="Liberation Sans" fill="#111" stroke="#111" stroke-width="0.2">0</text>
<line x1="40.10" y1="488.88" x2="43.10" y2="488.88" stroke="#555" stroke-width="0.9"/>
<text transform="translate(34.30 491.78)" font-size="8.2" text-anchor="end" font-weight="normal" font-family="Liberation Sans" fill="#111" stroke="#111" stroke-width="0.2">4</text>
<line x1="40.10" y1="453.56" x2="43.10" y2="453.56" stroke="#555" stroke-width="0.9"/>
<text transform="translate(34.30 456.46)" font-size="8.2" text-anchor="end" font-weight="normal" font-family="Liberation Sans" fill="#111" stroke="#111" stroke-width="0.2">8</text>
<line x1="40.10" y1="418.24" x2="43.10" y2="418.24" stroke="#555" stroke-width="0.9"/>
<text transform="translate(34.30 421.14)" font-size="8.2" text-anchor="end" font-weight="normal" font-family="Liberation Sans" fill="#111" stroke="#111" stroke-width="0.2">12</text>
<rect x="46.20" y="495.94" width="5.20" height="28.26" fill="#000" stroke="none" stroke-width="0.8"/>
<rect x="51.80" y="510.03" width="3.48" height="14.17" fill="#fff" stroke="#000" stroke-width="0.85"/>
<rect x="56.08" y="517.98" width="3.48" height="6.22" fill="#777" stroke="#000" stroke-width="0.85"/>
<rect x="60.36" y="507.82" width="3.48" height="16.38" fill="#fff" stroke="#000" stroke-width="0.85"/>
<line x1="62.10" y1="507.82" x2="62.10" y2="524.20" stroke="#444" stroke-width="0.8"/>
<rect x="64.64" y="509.59" width="3.48" height="14.61" fill="url(#pd)" stroke="#000" stroke-width="0.85"/>
<rect x="68.92" y="518.77" width="3.48" height="5.43" fill="url(#ph)" stroke="#000" stroke-width="0.85"/>
<rect x="79.05" y="485.79" width="5.20" height="38.41" fill="#000" stroke="none" stroke-width="0.8"/>
<rect x="84.65" y="511.36" width="3.48" height="12.85" fill="#fff" stroke="#000" stroke-width="0.85"/>
<rect x="88.93" y="510.47" width="3.48" height="13.73" fill="#777" stroke="#000" stroke-width="0.85"/>
<rect x="93.21" y="510.47" width="3.48" height="13.73" fill="#fff" stroke="#000" stroke-width="0.85"/>
<line x1="94.95" y1="510.47" x2="94.95" y2="524.20" stroke="#444" stroke-width="0.8"/>
<rect x="97.49" y="514.45" width="3.48" height="9.75" fill="url(#pd)" stroke="#000" stroke-width="0.85"/>
<rect x="101.77" y="516.65" width="3.48" height="7.55" fill="url(#ph)" stroke="#000" stroke-width="0.85"/>
<rect x="111.90" y="495.06" width="5.20" height="29.14" fill="#000" stroke="none" stroke-width="0.8"/>
<rect x="117.50" y="496.79" width="3.48" height="27.41" fill="#fff" stroke="#000" stroke-width="0.85"/>
<rect x="121.78" y="512.59" width="3.48" height="11.61" fill="#777" stroke="#000" stroke-width="0.85"/>
<rect x="126.06" y="521.51" width="3.48" height="2.69" fill="#fff" stroke="#000" stroke-width="0.85"/>
<line x1="127.80" y1="521.51" x2="127.80" y2="524.20" stroke="#444" stroke-width="0.8"/>
<rect x="130.34" y="507.38" width="3.48" height="16.82" fill="url(#pd)" stroke="#000" stroke-width="0.85"/>
<rect x="134.62" y="516.65" width="3.48" height="7.55" fill="url(#ph)" stroke="#000" stroke-width="0.85"/>
<rect x="144.75" y="492.41" width="5.20" height="31.79" fill="#000" stroke="none" stroke-width="0.8"/>
<rect x="150.35" y="516.21" width="3.48" height="7.99" fill="#fff" stroke="#000" stroke-width="0.85"/>
<rect x="154.63" y="521.51" width="3.48" height="2.69" fill="#777" stroke="#000" stroke-width="0.85"/>
<rect x="158.91" y="519.74" width="3.48" height="4.46" fill="#fff" stroke="#000" stroke-width="0.85"/>
<line x1="160.65" y1="519.74" x2="160.65" y2="524.20" stroke="#444" stroke-width="0.8"/>
<rect x="163.19" y="517.09" width="3.48" height="7.11" fill="url(#pd)" stroke="#000" stroke-width="0.85"/>
<rect x="167.47" y="518.86" width="3.48" height="5.34" fill="url(#ph)" stroke="#000" stroke-width="0.85"/>
<rect x="177.60" y="511.84" width="5.20" height="12.36" fill="#000" stroke="none" stroke-width="0.8"/>
<rect x="183.20" y="514.00" width="3.48" height="10.20" fill="#fff" stroke="#000" stroke-width="0.85"/>
<rect x="187.48" y="517.09" width="3.48" height="7.11" fill="#777" stroke="#000" stroke-width="0.85"/>
<rect x="191.76" y="518.86" width="3.48" height="5.34" fill="#fff" stroke="#000" stroke-width="0.85"/>
<line x1="193.50" y1="518.86" x2="193.50" y2="524.20" stroke="#444" stroke-width="0.8"/>
<rect x="196.04" y="515.77" width="3.48" height="8.43" fill="url(#pd)" stroke="#000" stroke-width="0.85"/>
<rect x="200.32" y="518.86" width="3.48" height="5.34" fill="url(#ph)" stroke="#000" stroke-width="0.85"/>
<rect x="210.45" y="518.02" width="5.20" height="6.18" fill="#000" stroke="none" stroke-width="0.8"/>
<rect x="216.05" y="504.73" width="3.48" height="19.47" fill="#fff" stroke="#000" stroke-width="0.85"/>
<rect x="220.33" y="512.24" width="3.48" height="11.96" fill="#777" stroke="#000" stroke-width="0.85"/>
<rect x="224.61" y="520.63" width="3.48" height="3.57" fill="#fff" stroke="#000" stroke-width="0.85"/>
<line x1="226.35" y1="520.63" x2="226.35" y2="524.20" stroke="#444" stroke-width="0.8"/>
<rect x="228.89" y="516.21" width="3.48" height="7.99" fill="url(#pd)" stroke="#000" stroke-width="0.85"/>
<rect x="233.17" y="518.42" width="3.48" height="5.78" fill="url(#ph)" stroke="#000" stroke-width="0.85"/>
<rect x="243.30" y="429.72" width="5.20" height="94.48" fill="#000" stroke="none" stroke-width="0.8"/>
<rect x="248.90" y="449.55" width="3.48" height="74.66" fill="#fff" stroke="#000" stroke-width="0.85"/>
<rect x="253.18" y="487.51" width="3.48" height="36.69" fill="#777" stroke="#000" stroke-width="0.85"/>
<rect x="257.46" y="506.94" width="3.48" height="17.26" fill="#fff" stroke="#000" stroke-width="0.85"/>
<line x1="259.20" y1="506.94" x2="259.20" y2="524.20" stroke="#444" stroke-width="0.8"/>
<rect x="261.74" y="514.00" width="3.48" height="10.20" fill="url(#pd)" stroke="#000" stroke-width="0.85"/>
<rect x="266.02" y="514.89" width="3.48" height="9.31" fill="url(#ph)" stroke="#000" stroke-width="0.85"/>
<rect x="276.15" y="472.10" width="5.20" height="52.10" fill="#000" stroke="none" stroke-width="0.8"/>
<rect x="281.75" y="482.66" width="3.48" height="41.54" fill="#fff" stroke="#000" stroke-width="0.85"/>
<rect x="286.03" y="511.80" width="3.48" height="12.40" fill="#777" stroke="#000" stroke-width="0.85"/>
<rect x="290.31" y="508.26" width="3.48" height="15.94" fill="#fff" stroke="#000" stroke-width="0.85"/>
<line x1="292.05" y1="508.26" x2="292.05" y2="524.20" stroke="#444" stroke-width="0.8"/>
<rect x="294.59" y="507.82" width="3.48" height="16.38" fill="url(#pd)" stroke="#000" stroke-width="0.85"/>
<rect x="298.87" y="516.21" width="3.48" height="7.99" fill="url(#ph)" stroke="#000" stroke-width="0.85"/>
<rect x="341.85" y="498.15" width="5.20" height="26.05" fill="#000" stroke="none" stroke-width="0.8"/>
<rect x="347.45" y="516.21" width="3.48" height="7.99" fill="#fff" stroke="#000" stroke-width="0.85"/>
<rect x="351.73" y="504.29" width="3.48" height="19.91" fill="#777" stroke="#000" stroke-width="0.85"/>
<rect x="356.01" y="517.54" width="3.48" height="6.66" fill="#fff" stroke="#000" stroke-width="0.85"/>
<line x1="357.75" y1="517.54" x2="357.75" y2="524.20" stroke="#444" stroke-width="0.8"/>
<rect x="360.29" y="509.15" width="3.48" height="15.05" fill="url(#pd)" stroke="#000" stroke-width="0.85"/>
<rect x="364.57" y="514.89" width="3.48" height="9.31" fill="url(#ph)" stroke="#000" stroke-width="0.85"/>
<rect x="374.70" y="428.84" width="5.20" height="95.36" fill="#000" stroke="none" stroke-width="0.8"/>
<rect x="380.30" y="520.63" width="3.48" height="3.57" fill="#fff" stroke="#000" stroke-width="0.85"/>
<rect x="384.58" y="513.12" width="3.48" height="11.08" fill="#777" stroke="#000" stroke-width="0.85"/>
<rect x="388.86" y="516.21" width="3.48" height="7.99" fill="#fff" stroke="#000" stroke-width="0.85"/>
<line x1="390.60" y1="516.21" x2="390.60" y2="524.20" stroke="#444" stroke-width="0.8"/>
<rect x="393.14" y="508.71" width="3.48" height="15.49" fill="url(#pd)" stroke="#000" stroke-width="0.85"/>
<rect x="397.42" y="519.30" width="3.48" height="4.90" fill="url(#ph)" stroke="#000" stroke-width="0.85"/>
<rect x="407.55" y="436.78" width="5.20" height="87.42" fill="#000" stroke="none" stroke-width="0.8"/>
<rect x="413.15" y="522.83" width="3.48" height="1.37" fill="#fff" stroke="#000" stroke-width="0.85"/>
<rect x="417.43" y="504.29" width="3.48" height="19.91" fill="#777" stroke="#000" stroke-width="0.85"/>
<rect x="421.71" y="513.56" width="3.48" height="10.64" fill="#fff" stroke="#000" stroke-width="0.85"/>
<line x1="423.45" y1="513.56" x2="423.45" y2="524.20" stroke="#444" stroke-width="0.8"/>
<rect x="425.99" y="517.54" width="3.48" height="6.66" fill="url(#pd)" stroke="#000" stroke-width="0.85"/>
<rect x="430.27" y="516.21" width="3.48" height="7.99" fill="url(#ph)" stroke="#000" stroke-width="0.85"/>
<rect x="440.40" y="471.66" width="5.20" height="52.54" fill="#000" stroke="none" stroke-width="0.8"/>
<rect x="446.00" y="491.05" width="3.48" height="33.15" fill="#fff" stroke="#000" stroke-width="0.85"/>
<rect x="450.28" y="495.90" width="3.48" height="28.30" fill="#777" stroke="#000" stroke-width="0.85"/>
<rect x="454.56" y="521.07" width="3.48" height="3.13" fill="#fff" stroke="#000" stroke-width="0.85"/>
<line x1="456.30" y1="521.07" x2="456.30" y2="524.20" stroke="#444" stroke-width="0.8"/>
<rect x="458.84" y="516.21" width="3.48" height="7.99" fill="url(#pd)" stroke="#000" stroke-width="0.85"/>
<rect x="463.12" y="516.21" width="3.48" height="7.99" fill="url(#ph)" stroke="#000" stroke-width="0.85"/>
<line x1="43.10" y1="524.20" x2="470.50" y2="524.20" stroke="#444" stroke-width="0.9"/>
<line x1="76.25" y1="524.20" x2="76.25" y2="526.20" stroke="#444" stroke-width="0.8"/>
<line x1="109.10" y1="524.20" x2="109.10" y2="526.20" stroke="#444" stroke-width="0.8"/>
<line x1="141.95" y1="524.20" x2="141.95" y2="526.20" stroke="#444" stroke-width="0.8"/>
<line x1="174.80" y1="524.20" x2="174.80" y2="526.20" stroke="#444" stroke-width="0.8"/>
<line x1="207.65" y1="524.20" x2="207.65" y2="526.20" stroke="#444" stroke-width="0.8"/>
<line x1="240.50" y1="524.20" x2="240.50" y2="526.20" stroke="#444" stroke-width="0.8"/>
<line x1="273.35" y1="524.20" x2="273.35" y2="526.20" stroke="#444" stroke-width="0.8"/>
<line x1="306.20" y1="524.20" x2="306.20" y2="526.20" stroke="#444" stroke-width="0.8"/>
<line x1="339.05" y1="524.20" x2="339.05" y2="526.20" stroke="#444" stroke-width="0.8"/>
<line x1="371.90" y1="524.20" x2="371.90" y2="526.20" stroke="#444" stroke-width="0.8"/>
<line x1="404.75" y1="524.20" x2="404.75" y2="526.20" stroke="#444" stroke-width="0.8"/>
<line x1="437.60" y1="524.20" x2="437.60" y2="526.20" stroke="#444" stroke-width="0.8"/>
<line x1="470.45" y1="524.20" x2="470.45" y2="526.20" stroke="#444" stroke-width="0.8"/>
<line x1="43.10" y1="524.70" x2="43.10" y2="526.20" stroke="#444" stroke-width="0.8"/>
<line x1="39.20" y1="515.80" x2="471.50" y2="515.80" stroke="#222" stroke-width="1.2" stroke-dasharray="3.2 2.3"/>
<text transform="translate(21.60 473.70) rotate(-90)" font-size="8.7" text-anchor="middle" font-weight="normal" font-family="Liberation Sans" fill="#111" stroke="#111" stroke-width="0.2">relative expression levels</text>
<text transform="translate(477.00 517.20)" font-size="8.4" text-anchor="start" font-weight="normal" font-family="Liberation Sans" fill="#111" stroke="#111" stroke-width="0.2">reference</text>
<line x1="45.00" y1="533.90" x2="305.00" y2="533.90" stroke="#222" stroke-width="1.2"/>
<line x1="341.00" y1="533.90" x2="469.00" y2="533.90" stroke="#222" stroke-width="1.2"/>
<text transform="translate(174.00 548.60)" font-size="10" text-anchor="middle" font-weight="normal" font-family="Liberation Sans" fill="#111" stroke="#111" stroke-width="0.2">FL</text>
<text transform="translate(412.00 548.60)" font-size="10" text-anchor="middle" font-weight="normal" font-family="Liberation Sans" fill="#111" stroke="#111" stroke-width="0.2">DLBCL</text>
<rect x="483.20" y="442.90" width="7.10" height="3.80" fill="#000" stroke="none" stroke-width="0.8"/>
<text transform="translate(493.20 448.30)" font-size="8.5" text-anchor="start" font-weight="normal" font-family="Liberation Sans" fill="#111" stroke="#111" stroke-width="0.1">ULBP1</text>
<rect x="483.75" y="453.85" width="6.00" height="3.30" fill="#fff" stroke="#000" stroke-width="1.1"/>
<text transform="translate(493.20 459.00)" font-size="8.5" text-anchor="start" font-weight="normal" font-family="Liberation Sans" fill="#111" stroke="#111" stroke-width="0.1">ULBP2</text>
<rect x="483.75" y="464.55" width="6.00" height="3.30" fill="#777" stroke="#000" stroke-width="1.1"/>
<text transform="translate(493.20 469.70)" font-size="8.5" text-anchor="start" font-weight="normal" font-family="Liberation Sans" fill="#111" stroke="#111" stroke-width="0.1">ULBP3</text>
<rect x="483.75" y="475.25" width="6.00" height="3.30" fill="#fff" stroke="#000" stroke-width="1.1"/>
<line x1="486.75" y1="473.70" x2="486.75" y2="480.10" stroke="#000" stroke-width="1.1"/>
<text transform="translate(493.20 480.40)" font-size="8.5" text-anchor="start" font-weight="normal" font-family="Liberation Sans" fill="#111" stroke="#111" stroke-width="0.1">ULBP4</text>
<rect x="483.75" y="485.95" width="6.00" height="3.30" fill="url(#pd)" stroke="#000" stroke-width="1.1"/>
<text transform="translate(493.20 491.10)" font-size="8.5" text-anchor="start" font-weight="normal" font-family="Liberation Sans" fill="#111" stroke="#111" stroke-width="0.1">MICA</text>
<rect x="483.75" y="496.65" width="6.00" height="3.30" fill="url(#ph)" stroke="#000" stroke-width="1.1"/>
<text transform="translate(493.20 501.80)" font-size="8.5" text-anchor="start" font-weight="normal" font-family="Liberation Sans" fill="#111" stroke="#111" stroke-width="0.1">MICB</text>
<text transform="translate(-0.80 562.80)" font-size="13.3" text-anchor="start" font-weight="bold" font-family="Liberation Sans" fill="#000">E</text>
<line x1="42.90" y1="558.85" x2="42.90" y2="665.60" stroke="#555" stroke-width="0.9"/>
<line x1="39.90" y1="665.60" x2="42.90" y2="665.60" stroke="#555" stroke-width="0.9"/>
<text transform="translate(34.40 668.50)" font-size="8.2" text-anchor="end" font-weight="normal" font-family="Liberation Sans" fill="#111" stroke="#111" stroke-width="0.2">0</text>
<line x1="39.90" y1="644.25" x2="42.90" y2="644.25" stroke="#555" stroke-width="0.9"/>
<text transform="translate(34.40 647.15)" font-size="8.2" text-anchor="end" font-weight="normal" font-family="Liberation Sans" fill="#111" stroke="#111" stroke-width="0.2">10</text>
<line x1="39.90" y1="622.90" x2="42.90" y2="622.90" stroke="#555" stroke-width="0.9"/>
<text transform="translate(34.40 625.80)" font-size="8.2" text-anchor="end" font-weight="normal" font-family="Liberation Sans" fill="#111" stroke="#111" stroke-width="0.2">20</text>
<line x1="39.90" y1="601.55" x2="42.90" y2="601.55" stroke="#555" stroke-width="0.9"/>
<text transform="translate(34.40 604.45)" font-size="8.2" text-anchor="end" font-weight="normal" font-family="Liberation Sans" fill="#111" stroke="#111" stroke-width="0.2">30</text>
<line x1="39.90" y1="580.20" x2="42.90" y2="580.20" stroke="#555" stroke-width="0.9"/>
<text transform="translate(34.40 583.10)" font-size="8.2" text-anchor="end" font-weight="normal" font-family="Liberation Sans" fill="#111" stroke="#111" stroke-width="0.2">40</text>
<line x1="39.90" y1="558.85" x2="42.90" y2="558.85" stroke="#555" stroke-width="0.9"/>
<text transform="translate(34.40 561.75)" font-size="8.2" text-anchor="end" font-weight="normal" font-family="Liberation Sans" fill="#111" stroke="#111" stroke-width="0.2">50</text>
<rect x="45.50" y="652.79" width="4.00" height="12.81" fill="#000" stroke="none" stroke-width="0.8"/>
<rect x="49.90" y="662.90" width="2.86" height="2.70" fill="#fff" stroke="#000" stroke-width="0.85"/>
<rect x="57.22" y="663.87" width="2.86" height="1.73" fill="#333" stroke="#000" stroke-width="0.85"/>
<rect x="60.88" y="663.87" width="2.86" height="1.73" fill="#333" stroke="#000" stroke-width="0.85"/>
<rect x="64.54" y="663.87" width="2.86" height="1.73" fill="#333" stroke="#000" stroke-width="0.85"/>
<rect x="77.12" y="662.80" width="2.86" height="2.80" fill="#fff" stroke="#000" stroke-width="0.85"/>
<rect x="84.44" y="663.87" width="2.86" height="1.73" fill="#333" stroke="#000" stroke-width="0.85"/>
<rect x="88.10" y="663.87" width="2.86" height="1.73" fill="#333" stroke="#000" stroke-width="0.85"/>
<rect x="91.76" y="663.87" width="2.86" height="1.73" fill="#333" stroke="#000" stroke-width="0.85"/>
<rect x="99.93" y="660.69" width="4.00" height="4.91" fill="#000" stroke="none" stroke-width="0.8"/>
<rect x="104.33" y="663.22" width="2.86" height="2.38" fill="#fff" stroke="#000" stroke-width="0.85"/>
<rect x="107.99" y="663.87" width="2.86" height="1.73" fill="#333" stroke="#000" stroke-width="0.85"/>
<rect x="111.65" y="663.87" width="2.86" height="1.73" fill="#333" stroke="#000" stroke-width="0.85"/>
<rect x="115.31" y="663.87" width="2.86" height="1.73" fill="#333" stroke="#000" stroke-width="0.85"/>
<rect x="118.97" y="663.87" width="2.86" height="1.73" fill="#333" stroke="#000" stroke-width="0.85"/>
<rect x="127.15" y="650.65" width="4.00" height="14.94" fill="#000" stroke="none" stroke-width="0.8"/>
<rect x="131.55" y="663.22" width="2.86" height="2.38" fill="#fff" stroke="#000" stroke-width="0.85"/>
<rect x="138.87" y="663.87" width="2.86" height="1.73" fill="#333" stroke="#000" stroke-width="0.85"/>
<rect x="142.53" y="663.87" width="2.86" height="1.73" fill="#333" stroke="#000" stroke-width="0.85"/>
<rect x="146.19" y="663.87" width="2.86" height="1.73" fill="#333" stroke="#000" stroke-width="0.85"/>
<rect x="154.36" y="630.37" width="4.00" height="35.23" fill="#000" stroke="none" stroke-width="0.8"/>
<rect x="158.76" y="656.18" width="2.86" height="9.42" fill="#fff" stroke="#000" stroke-width="0.85"/>
<rect x="173.40" y="663.87" width="2.86" height="1.73" fill="#333" stroke="#000" stroke-width="0.85"/>
<rect x="181.58" y="601.55" width="4.00" height="64.05" fill="#000" stroke="none" stroke-width="0.8"/>
<rect x="185.98" y="643.37" width="2.86" height="22.23" fill="#fff" stroke="#000" stroke-width="0.85"/>
<rect x="196.96" y="663.87" width="2.86" height="1.73" fill="#333" stroke="#000" stroke-width="0.85"/>
<rect x="200.62" y="663.87" width="2.86" height="1.73" fill="#333" stroke="#000" stroke-width="0.85"/>
<rect x="208.80" y="628.45" width="4.00" height="37.15" fill="#000" stroke="none" stroke-width="0.8"/>
<rect x="213.20" y="662.37" width="2.86" height="3.23" fill="#fff" stroke="#000" stroke-width="0.85"/>
<rect x="220.52" y="662.58" width="2.86" height="3.02" fill="#fff" stroke="#000" stroke-width="0.85"/>
<line x1="221.95" y1="662.58" x2="221.95" y2="665.60" stroke="#444" stroke-width="0.8"/>
<rect x="224.18" y="663.87" width="2.86" height="1.73" fill="#333" stroke="#000" stroke-width="0.85"/>
<rect x="240.41" y="663.44" width="2.86" height="2.16" fill="#333" stroke="#000" stroke-width="0.85"/>
<rect x="255.05" y="663.87" width="2.86" height="1.73" fill="#333" stroke="#000" stroke-width="0.85"/>
<rect x="290.44" y="655.78" width="4.00" height="9.82" fill="#000" stroke="none" stroke-width="0.8"/>
<rect x="294.84" y="656.18" width="2.86" height="9.42" fill="#fff" stroke="#000" stroke-width="0.85"/>
<rect x="305.82" y="663.87" width="2.86" height="1.73" fill="#333" stroke="#000" stroke-width="0.85"/>
<rect x="309.48" y="663.87" width="2.86" height="1.73" fill="#333" stroke="#000" stroke-width="0.85"/>
<rect x="317.66" y="639.77" width="4.00" height="25.83" fill="#000" stroke="none" stroke-width="0.8"/>
<rect x="322.06" y="662.37" width="2.86" height="3.23" fill="#fff" stroke="#000" stroke-width="0.85"/>
<rect x="329.38" y="663.87" width="2.86" height="1.73" fill="#333" stroke="#000" stroke-width="0.85"/>
<rect x="333.04" y="663.87" width="2.86" height="1.73" fill="#333" stroke="#000" stroke-width="0.85"/>
<rect x="336.70" y="663.87" width="2.86" height="1.73" fill="#333" stroke="#000" stroke-width="0.85"/>
<rect x="349.28" y="658.95" width="2.86" height="6.65" fill="#fff" stroke="#000" stroke-width="0.85"/>
<rect x="356.60" y="661.94" width="2.86" height="3.66" fill="#fff" stroke="#000" stroke-width="0.85"/>
<line x1="358.03" y1="661.94" x2="358.03" y2="665.60" stroke="#444" stroke-width="0.8"/>
<rect x="360.26" y="663.87" width="2.86" height="1.73" fill="#333" stroke="#000" stroke-width="0.85"/>
<rect x="372.09" y="660.05" width="4.00" height="5.55" fill="#000" stroke="none" stroke-width="0.8"/>
<rect x="376.49" y="663.87" width="2.86" height="1.73" fill="#333" stroke="#000" stroke-width="0.85"/>
<rect x="380.15" y="663.87" width="2.86" height="1.73" fill="#333" stroke="#000" stroke-width="0.85"/>
<rect x="383.81" y="664.29" width="2.86" height="1.31" fill="#333" stroke="#000" stroke-width="0.85"/>
<rect x="391.13" y="659.17" width="2.86" height="6.43" fill="url(#ph)" stroke="#000" stroke-width="0.85"/>
<rect x="399.31" y="567.18" width="4.00" height="98.42" fill="#000" stroke="none" stroke-width="0.8"/>
<rect x="403.71" y="664.72" width="2.86" height="0.88" fill="#333" stroke="#000" stroke-width="0.85"/>
<rect x="407.37" y="664.72" width="2.86" height="0.88" fill="#333" stroke="#000" stroke-width="0.85"/>
<rect x="411.03" y="664.72" width="2.86" height="0.88" fill="#333" stroke="#000" stroke-width="0.85"/>
<rect x="414.69" y="664.72" width="2.86" height="0.88" fill="#333" stroke="#000" stroke-width="0.85"/>
<rect x="418.35" y="664.72" width="2.86" height="0.88" fill="#333" stroke="#000" stroke-width="0.85"/>
<rect x="426.52" y="663.47" width="4.00" height="2.13" fill="#000" stroke="none" stroke-width="0.8"/>
<rect x="430.92" y="663.87" width="2.86" height="1.73" fill="#333" stroke="#000" stroke-width="0.85"/>
<rect x="434.58" y="663.87" width="2.86" height="1.73" fill="#333" stroke="#000" stroke-width="0.85"/>
<rect x="438.24" y="663.87" width="2.86" height="1.73" fill="#333" stroke="#000" stroke-width="0.85"/>
<rect x="441.90" y="663.44" width="2.86" height="2.16" fill="#333" stroke="#000" stroke-width="0.85"/>
<rect x="445.56" y="663.87" width="2.86" height="1.73" fill="#333" stroke="#000" stroke-width="0.85"/>
<rect x="453.74" y="663.47" width="4.00" height="2.13" fill="#000" stroke="none" stroke-width="0.8"/>
<rect x="458.14" y="662.80" width="2.86" height="2.80" fill="#fff" stroke="#000" stroke-width="0.85"/>
<rect x="461.80" y="663.87" width="2.86" height="1.73" fill="#333" stroke="#000" stroke-width="0.85"/>
<rect x="465.46" y="663.87" width="2.86" height="1.73" fill="#333" stroke="#000" stroke-width="0.85"/>
<rect x="469.12" y="663.87" width="2.86" height="1.73" fill="#333" stroke="#000" stroke-width="0.85"/>
<rect x="472.78" y="663.87" width="2.86" height="1.73" fill="#333" stroke="#000" stroke-width="0.85"/>
<line x1="42.90" y1="665.60" x2="477.50" y2="665.60" stroke="#444" stroke-width="0.9"/>
<line x1="70.12" y1="665.60" x2="70.12" y2="667.60" stroke="#444" stroke-width="0.8"/>
<line x1="97.33" y1="665.60" x2="97.33" y2="667.60" stroke="#444" stroke-width="0.8"/>
<line x1="124.55" y1="665.60" x2="124.55" y2="667.60" stroke="#444" stroke-width="0.8"/>
<line x1="151.76" y1="665.60" x2="151.76" y2="667.60" stroke="#444" stroke-width="0.8"/>
<line x1="178.98" y1="665.60" x2="178.98" y2="667.60" stroke="#444" stroke-width="0.8"/>
<line x1="206.20" y1="665.60" x2="206.20" y2="667.60" stroke="#444" stroke-width="0.8"/>
<line x1="233.41" y1="665.60" x2="233.41" y2="667.60" stroke="#444" stroke-width="0.8"/>
<line x1="260.63" y1="665.60" x2="260.63" y2="667.60" stroke="#444" stroke-width="0.8"/>
<line x1="287.84" y1="665.60" x2="287.84" y2="667.60" stroke="#444" stroke-width="0.8"/>
<line x1="315.06" y1="665.60" x2="315.06" y2="667.60" stroke="#444" stroke-width="0.8"/>
<line x1="342.28" y1="665.60" x2="342.28" y2="667.60" stroke="#444" stroke-width="0.8"/>
<line x1="369.49" y1="665.60" x2="369.49" y2="667.60" stroke="#444" stroke-width="0.8"/>
<line x1="396.71" y1="665.60" x2="396.71" y2="667.60" stroke="#444" stroke-width="0.8"/>
<line x1="423.92" y1="665.60" x2="423.92" y2="667.60" stroke="#444" stroke-width="0.8"/>
<line x1="451.14" y1="665.60" x2="451.14" y2="667.60" stroke="#444" stroke-width="0.8"/>
<line x1="478.36" y1="665.60" x2="478.36" y2="667.60" stroke="#444" stroke-width="0.8"/>
<line x1="42.90" y1="666.10" x2="42.90" y2="667.60" stroke="#444" stroke-width="0.8"/>
<line x1="39.00" y1="661.80" x2="477.50" y2="661.80" stroke="#222" stroke-width="1.2" stroke-dasharray="3.2 2.3"/>
<text transform="translate(20.50 615.30) rotate(-90)" font-size="8.5" text-anchor="middle" font-weight="normal" font-family="Liberation Sans" fill="#111" stroke="#111" stroke-width="0.2">relative expression levels</text>
<text transform="translate(481.20 663.40)" font-size="8.3" text-anchor="start" font-weight="normal" font-family="Liberation Sans" fill="#111" stroke="#111" stroke-width="0.2">reference</text>
<line x1="45.20" y1="672.90" x2="256.50" y2="672.90" stroke="#222" stroke-width="1.4"/>
<line x1="287.50" y1="672.90" x2="480.50" y2="672.90" stroke="#222" stroke-width="1.4"/>
<text transform="translate(155.10 687.00)" font-size="10" text-anchor="middle" font-weight="normal" font-family="Liberation Sans" fill="#111" stroke="#111" stroke-width="0.2">T-ALL</text>
<text transform="translate(390.60 687.70)" font-size="10.3" text-anchor="middle" font-weight="normal" font-family="Liberation Sans" fill="#111" stroke="#111" stroke-width="0.2">B-ALL</text>
<rect x="483.60" y="588.50" width="7.10" height="3.80" fill="#000" stroke="none" stroke-width="0.8"/>
<text transform="translate(493.60 593.40)" font-size="8.5" text-anchor="start" font-weight="normal" font-family="Liberation Sans" fill="#111" stroke="#111" stroke-width="0.1">ULBP1</text>
<rect x="484.15" y="599.55" width="6.00" height="3.30" fill="#fff" stroke="#000" stroke-width="1.1"/>
<text transform="translate(493.60 604.20)" font-size="8.5" text-anchor="start" font-weight="normal" font-family="Liberation Sans" fill="#111" stroke="#111" stroke-width="0.1">ULBP2</text>
<rect x="484.15" y="609.95" width="6.00" height="3.30" fill="#777" stroke="#000" stroke-width="1.1"/>
<text transform="translate(493.60 614.60)" font-size="8.5" text-anchor="start" font-weight="normal" font-family="Liberation Sans" fill="#111" stroke="#111" stroke-width="0.1">ULBP3</text>
<rect x="484.15" y="620.25" width="6.00" height="3.30" fill="#fff" stroke="#000" stroke-width="1.1"/>
<line x1="487.15" y1="618.70" x2="487.15" y2="625.10" stroke="#000" stroke-width="1.1"/>
<text transform="translate(493.60 624.90)" font-size="8.5" text-anchor="start" font-weight="normal" font-family="Liberation Sans" fill="#111" stroke="#111" stroke-width="0.1">ULBP4</text>
<rect x="484.15" y="631.55" width="6.00" height="3.30" fill="url(#pd)" stroke="#000" stroke-width="1.1"/>
<text transform="translate(493.60 636.20)" font-size="8.5" text-anchor="start" font-weight="normal" font-family="Liberation Sans" fill="#111" stroke="#111" stroke-width="0.1">MICA</text>
<rect x="484.15" y="642.35" width="6.00" height="3.30" fill="url(#ph)" stroke="#000" stroke-width="1.1"/>
<text transform="translate(493.60 647.00)" font-size="8.5" text-anchor="start" font-weight="normal" font-family="Liberation Sans" fill="#111" stroke="#111" stroke-width="0.1">MICB</text>
</svg>
</body></html>
